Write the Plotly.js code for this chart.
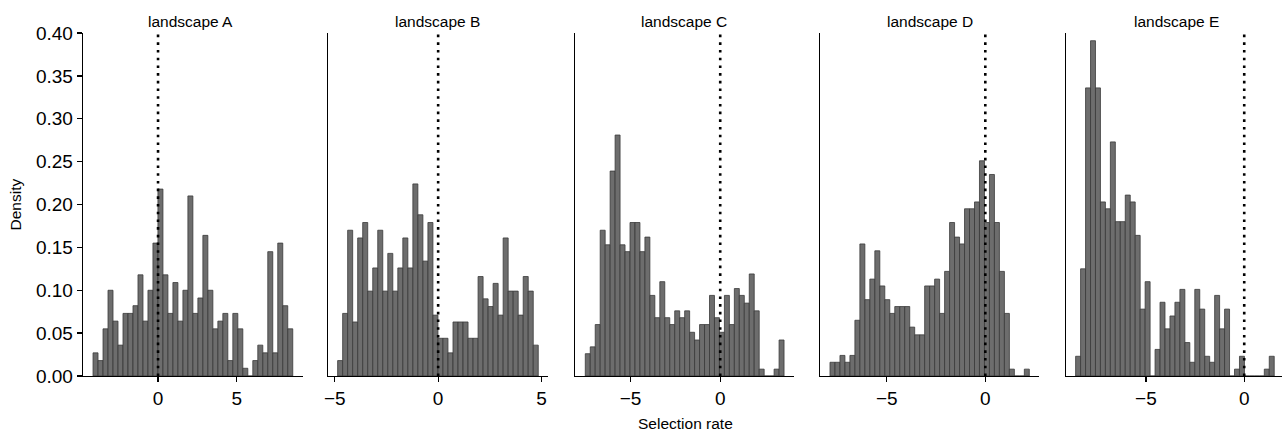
<!DOCTYPE html>
<html>
<head>
<meta charset="utf-8">
<script src="https://cdn.plot.ly/plotly-3.0.1.min.js"></script>
<style>html,body{margin:0;padding:0;background:#fff;}#chart{width:1282px;height:438px;}</style>
</head>
<body>
<div id="chart"></div>
<script>
// Panel titles
const panelTitles = ["landscape A", "landscape B", "landscape C", "landscape D", "landscape E"];

// Histogram densities (40 bins per panel)
const densityA = [0.027,0.018,0.055,0.100,0.064,0.036,0.073,0.073,0.082,0.118,
                  0.064,0.100,0.155,0.218,0.118,0.073,0.109,0.064,0.100,0.210,
                  0.073,0.091,0.164,0.100,0.055,0.064,0.073,0.018,0.073,0.055,
                  0.009,0.000,0.018,0.036,0.027,0.145,0.027,0.155,0.082,0.055];
const densityB = [0.018,0.073,0.170,0.063,0.161,0.179,0.099,0.126,0.170,0.099,
                  0.143,0.099,0.126,0.161,0.126,0.224,0.188,0.134,0.179,0.071,
                  0.044,0.044,0.027,0.063,0.063,0.063,0.044,0.044,0.116,0.090,
                  0.081,0.108,0.071,0.161,0.099,0.099,0.071,0.116,0.099,0.036];
const densityC = [0.026,0.034,0.060,0.170,0.153,0.239,0.281,0.153,0.145,0.179,
                  0.179,0.145,0.162,0.094,0.068,0.110,0.068,0.060,0.076,0.068,
                  0.076,0.051,0.042,0.060,0.060,0.094,0.068,0.051,0.094,0.060,
                  0.102,0.094,0.085,0.119,0.076,0.008,0.000,0.000,0.008,0.042];
const densityD = [0.016,0.016,0.024,0.016,0.024,0.065,0.154,0.089,0.113,0.146,
                  0.105,0.089,0.073,0.081,0.081,0.081,0.057,0.048,0.048,0.105,
                  0.105,0.113,0.073,0.122,0.179,0.162,0.154,0.195,0.195,0.203,
                  0.251,0.179,0.235,0.179,0.122,0.073,0.008,0.000,0.000,0.008];
const densityE = [0.023,0.125,0.336,0.391,0.336,0.203,0.195,0.273,0.180,0.180,
                  0.211,0.203,0.164,0.078,0.110,0.000,0.031,0.086,0.055,0.070,
                  0.086,0.101,0.039,0.016,0.101,0.078,0.023,0.016,0.094,0.055,
                  0.078,0.000,0.008,0.023,0.000,0.000,0.000,0.000,0.008,0.023];

// Bin layout per panel (first bin left edge, bin width)
const binStart = [-4.132, -4.864, -7.517, -7.883, -8.571];
const binWidth = [0.3174, 0.2427, 0.2768, 0.2529, 0.2524];

// Axis settings
const xRanges = [[-4.77, 9.19], [-5.33, 5.33], [-8.09, 4.11], [-8.39, 2.74], [-9.06, 1.92]];
const xTicks = [[0, 5], [-5, 0, 5], [-5, 0], [-5, 0], [-5, 0]];
const yTicks = [0, 0.05, 0.10, 0.15, 0.20, 0.25, 0.30, 0.35, 0.40];
const refLine = 0;

const W = 1282;
const domainsPx = [[83, 302.6], [328, 548.3], [575, 794], [820, 1039.3], [1066, 1282]];
const titleCentersPx = [190, 437, 684, 930, 1176];
const densities = [densityA, densityB, densityC, densityD, densityE];

const font = "Liberation Sans, Arial, Helvetica, sans-serif";
const data = [];
const layout = {
  width: 1282, height: 438,
  margin: {l: 0, r: 0, t: 33, b: 62, pad: 0},
  paper_bgcolor: "#fff", plot_bgcolor: "#fff",
  showlegend: false,
  bargap: 0,
  font: {family: font, color: "#000"},
  shapes: [], annotations: []
};

densities.forEach((dens, i) => {
  const n = i === 0 ? "" : String(i + 1);
  const centers = dens.map((_, k) => binStart[i] + binWidth[i] * (k + 0.5));
  data.push({
    type: "bar", x: centers, y: dens, width: binWidth[i],
    xaxis: "x" + n, yaxis: "y" + n,
    marker: {color: "rgba(104,104,104,0.97)", line: {color: "#3a3a3a", width: 0.8}},
    hoverinfo: "skip"
  });
  const dom = [domainsPx[i][0] / W, Math.min(1, domainsPx[i][1] / W)];
  layout["xaxis" + n] = {
    domain: dom, range: xRanges[i], anchor: "y" + n,
    showline: true, linecolor: "#000", linewidth: 1.3,
    ticks: "outside", ticklen: 5, tickwidth: 1.3, tickcolor: "#000",
    tickvals: xTicks[i], showgrid: false, zeroline: false,
    tickfont: {size: 19, family: font, color: "#000"}
  };
  layout["yaxis" + n] = {
    domain: [0, 1], range: [0, 0.4], anchor: "x" + n,
    showline: true, linecolor: "#000", linewidth: 1.3,
    ticks: i === 0 ? "outside" : "", ticklen: 5, tickwidth: 1.3, tickcolor: "#000",
    tickvals: yTicks, tickformat: ".2f", showticklabels: i === 0,
    showgrid: false, zeroline: false,
    tickfont: {size: 19, family: font, color: "#000"}
  };
  layout.shapes.push({
    type: "line", xref: "x" + n, yref: "y" + n,
    x0: refLine, x1: refLine, y0: 0, y1: 0.4,
    line: {color: "#000", width: 2.6, dash: "2.6px,5.1px"}, layer: "above"
  });
  layout.annotations.push({
    text: panelTitles[i], xref: "paper", yref: "paper",
    x: titleCentersPx[i] / W,
    y: 1, yshift: 1, yanchor: "bottom", xanchor: "center", showarrow: false,
    font: {size: 15.5, family: font, color: "#000"}
  });
});

layout.annotations.push({
  text: "Selection rate", xref: "paper", yref: "paper",
  x: 685 / W, y: 0, yshift: -47, xanchor: "center", yanchor: "middle",
  showarrow: false, font: {size: 15.5, family: font, color: "#000"}
});
layout.annotations.push({
  text: "Density", xref: "paper", yref: "paper",
  x: 15 / W, y: 0.5, xanchor: "center", yanchor: "middle", textangle: -90,
  showarrow: false, font: {size: 15.5, family: font, color: "#000"}
});

Plotly.newPlot("chart", data, layout, {displayModeBar: false, staticPlot: true});
</script>
</body>
</html>
